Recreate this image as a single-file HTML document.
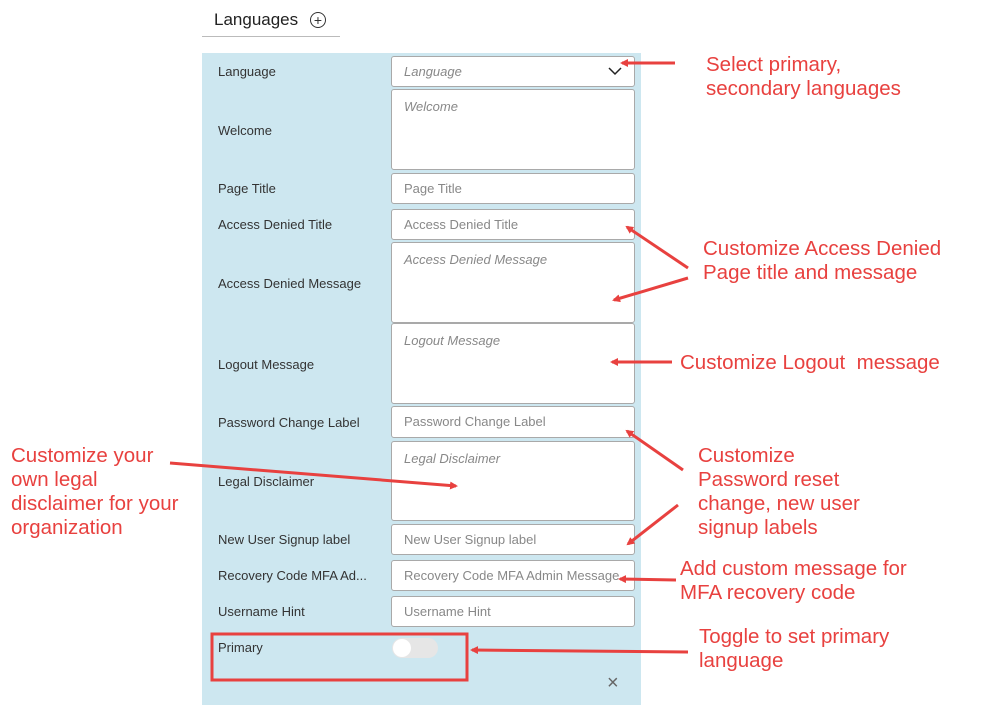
<!DOCTYPE html>
<html><head><meta charset="utf-8"><style>
body{margin:0;width:1001px;height:708px;background:#fff;position:relative;overflow:hidden;font-family:"Liberation Sans",sans-serif}
.a{position:absolute}
.panel{left:202px;top:53px;width:439px;height:652px;background:#cde7f0}
.lbl{font-size:13px;color:#333;left:218px}
.inp{left:391px;width:244px;background:#fff;border:1px solid #a9a9a9;border-radius:3px;font-size:13px;color:#888;box-sizing:border-box;padding:0 12px}
.it{font-style:italic}
.call{color:#e8413f;font-size:20.5px;line-height:24px}
</style></head><body>
<div class="a" style="left:214px;top:10px;font-size:17px;color:#222">Languages</div>
<div class="a" style="left:310px;top:12px;width:14px;height:14px;border:1px solid #333;border-radius:50%;font-size:14px;line-height:14px;text-align:center;color:#333">+</div>
<div class="a" style="left:202px;top:36px;width:138px;height:1px;background:#bbb"></div>
<div class="a panel"></div>

<div class="a lbl" style="top:64px">Language</div>
<div class="a inp it" style="top:56px;height:31px;line-height:29px">Language</div>
<svg class="a" style="left:608px;top:66px" width="14" height="10"><polyline points="1,2 7,8 13,2" fill="none" stroke="#222" stroke-width="1.5"/></svg>
<div class="a lbl" style="top:123px">Welcome</div>
<div class="a inp it" style="top:89px;height:81px;padding-top:9px">Welcome</div>
<div class="a lbl" style="top:181px">Page Title</div>
<div class="a inp" style="top:173px;height:31px;line-height:29px">Page Title</div>
<div class="a lbl" style="top:217px">Access Denied Title</div>
<div class="a inp" style="top:209px;height:31px;line-height:29px">Access Denied Title</div>
<div class="a lbl" style="top:276px">Access Denied Message</div>
<div class="a inp it" style="top:242px;height:81px;padding-top:9px">Access Denied Message</div>
<div class="a lbl" style="top:357px">Logout Message</div>
<div class="a inp it" style="top:323px;height:81px;padding-top:9px">Logout Message</div>
<div class="a lbl" style="top:415px">Password Change Label</div>
<div class="a inp" style="top:406px;height:32px;line-height:30px">Password Change Label</div>
<div class="a lbl" style="top:474px">Legal Disclaimer</div>
<div class="a inp it" style="top:441px;height:80px;padding-top:9px">Legal Disclaimer</div>
<div class="a lbl" style="top:532px">New User Signup label</div>
<div class="a inp" style="top:524px;height:31px;line-height:29px">New User Signup label</div>
<div class="a lbl" style="top:568px">Recovery Code MFA Ad...</div>
<div class="a inp" style="top:560px;height:31px;line-height:29px">Recovery Code MFA Admin Message</div>
<div class="a lbl" style="top:604px">Username Hint</div>
<div class="a inp" style="top:596px;height:31px;line-height:29px">Username Hint</div>
<div class="a lbl" style="top:640px">Primary</div>
<div class="a" style="left:392px;top:638px;width:46px;height:20px;border-radius:10px;background:#e6e6e6"></div>
<div class="a" style="left:393px;top:639px;width:18px;height:18px;border-radius:50%;background:#fff"></div>
<div class="a" style="left:607px;top:672px;font-size:20px;color:#666">×</div>

<div class="a call" style="left:706px;top:53px">Select primary,<br>secondary languages</div>
<div class="a call" style="left:703px;top:237px">Customize Access Denied<br>Page title and message</div>
<div class="a call" style="left:680px;top:351px">Customize Logout&nbsp; message</div>
<div class="a call" style="left:698px;top:444px">Customize<br>Password reset<br>change, new user<br>signup labels</div>
<div class="a call" style="left:680px;top:557px">Add custom message for<br>MFA recovery code</div>
<div class="a call" style="left:699px;top:625px">Toggle to set primary<br>language</div>
<div class="a call" style="left:11px;top:444px">Customize your<br>own legal<br>disclaimer for your<br>organization</div>

<svg class="a" style="left:0;top:0" width="1001" height="708">
<defs><marker id="h" markerWidth="8" markerHeight="8" refX="6" refY="4" orient="auto" markerUnits="userSpaceOnUse"><path d="M0,0 L8,4 L0,8z" fill="#e8413f"/></marker></defs>
<g stroke="#e8413f" stroke-width="3" fill="none" marker-end="url(#h)">
<line x1="675" y1="63" x2="622" y2="63"/>
<line x1="688" y1="268" x2="627" y2="227"/>
<line x1="688" y1="278" x2="614" y2="300"/>
<line x1="672" y1="362" x2="612" y2="362"/>
<line x1="683" y1="470" x2="627" y2="431"/>
<line x1="678" y1="505" x2="628" y2="544"/>
<line x1="676" y1="580" x2="620" y2="579"/>
<line x1="688" y1="652" x2="472" y2="650"/>
<line x1="170" y1="463" x2="456" y2="486"/>
</g>
<rect x="212" y="634" width="255" height="46" fill="none" stroke="#e8413f" stroke-width="3"/>
</svg>
</body></html>
